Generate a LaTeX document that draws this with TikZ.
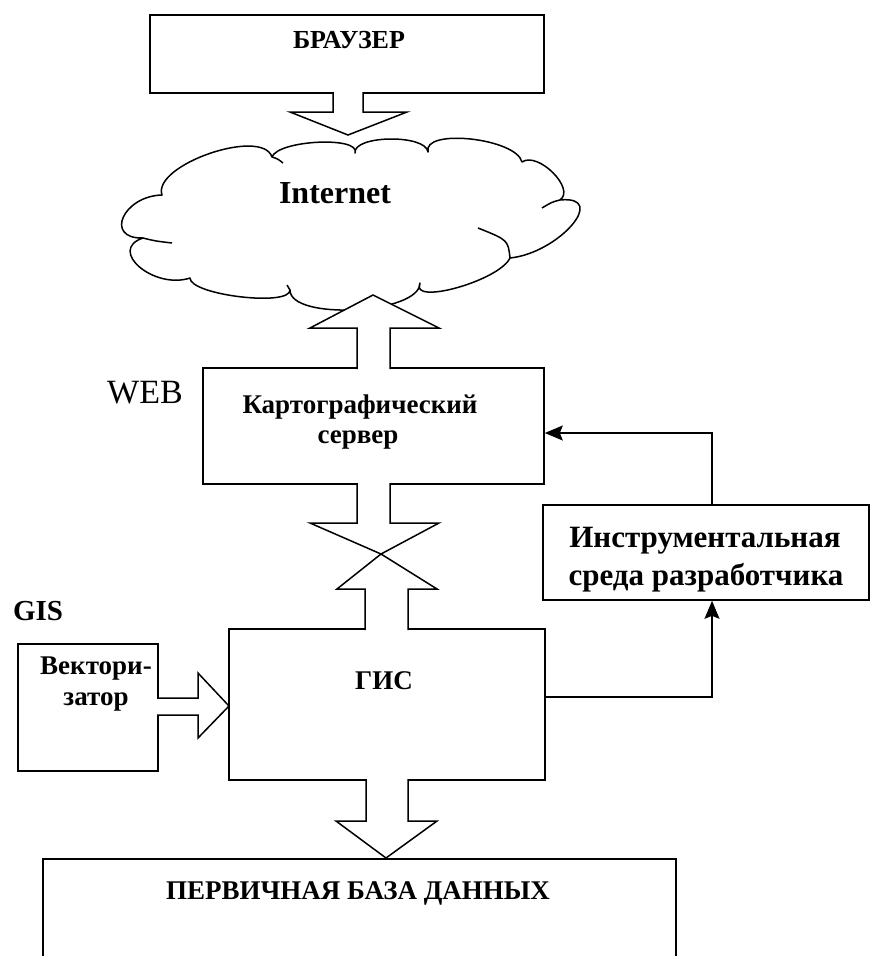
\documentclass[tikz,border=0pt]{standalone}
\usepackage{fontspec}
\setmainfont{Liberation Serif}
\usetikzlibrary{arrows.meta,calc}
\begin{document}
\begin{tikzpicture}[x=1pt,y=-1pt,
  box/.style={draw, line width=1.6pt, rectangle, inner sep=0pt},
  blockarrow/.style={draw, fill=white, line width=1.5pt, line join=miter},
  conn/.style={line width=1.6pt, -{Stealth[length=18pt,width=15pt,inset=3pt]}},
  lbl/.style={anchor=base, inner sep=0pt},
  cloudline/.style={line width=1.5pt, line join=round}
]
\useasboundingbox (0,0) rectangle (872,956);
\clip (0,0) rectangle (872,956);

% boxes
\node[box, minimum width=394pt, minimum height=78pt] (browser) at (347,54) {};
\node[box, minimum width=341pt, minimum height=116pt] (web) at (373.5,426) {};
\node[box, minimum width=326pt, minimum height=95pt] (instr) at (706,552.5) {};
\node[box, minimum width=316pt, minimum height=151pt] (gis) at (387,704.5) {};
\node[box, minimum width=140pt, minimum height=127pt] (vect) at (88,707.5) {};
\node[box, minimum width=633pt, minimum height=140pt, anchor=north] (db) at (359.5,858) {};

% cloud
\draw[cloudline, fill=white] (143,238)
 .. controls (104,239) and (123,196) .. (162,195)
 .. controls (152,165) and (262,127) .. (272,157)
 .. controls (278,140) and (361,136) .. (355,153)
 .. controls (353,135) and (426,134) .. (428,152)
 .. controls (422,128) and (516,138) .. (522,162)
 .. controls (538,151) and (576,189) .. (560,200)
 .. controls (609,195) and (559,253) .. (510,258)
 .. controls (499,281) and (409,306) .. (420,283)
 .. controls (420,314) and (290,321) .. (290,290)
 .. controls (290,307) and (190,295) .. (190,278)
 .. controls (154,290) and (107,250) .. cycle;
\draw[cloudline] (143,238) .. controls (155,241) .. (172,243);
\draw[cloudline] (272,157) .. controls (278,159) .. (283,163);
\draw[cloudline] (560,200) .. controls (552,202) .. (542,208);
\draw[cloudline] (510,258) .. controls (508,240) .. (478,228);
\draw[cloudline] (290,290) -- (287,285);
\node[lbl, font=\bfseries\fontsize{32}{36}\selectfont] (tinternet) at (335,203) {Internet};

% block arrows
\path[blockarrow] (333,92) -- (333,112) -- (290,112) -- (348,135) -- (407,112) -- (363,112) -- (363,92);
\path[blockarrow] (357,369) -- (357,328) -- (310,328) -- (373,295) -- (439,328) -- (390,328) -- (390,369);
\path[blockarrow] (357,483) -- (357,523) -- (310,523) -- (381,554) -- (439,523) -- (390,523) -- (390,483);
\path[blockarrow] (365,630) -- (365,589) -- (337,589) -- (381,554) -- (437,589) -- (408,589) -- (408,630);
\path[blockarrow] (366,779) -- (366,821) -- (336,821) -- (386,858) -- (437,821) -- (408,821) -- (408,779);
\path[blockarrow] (157,698) -- (198,698) -- (198,673) -- (229,706) -- (198,738) -- (198,715) -- (157,715);

% connectors
\draw[conn] ([yshift=7.5pt]gis.east) -| ([xshift=6pt]instr.south);
\draw[conn] ([xshift=6pt]instr.north) |- ([yshift=-7pt]web.east);

% texts
\node[lbl, font=\bfseries\fontsize{26}{30}\selectfont] (tbrowser) at (349,48) {БРАУЗЕР};
\node[lbl, font=\bfseries\fontsize{27}{30}\selectfont] (tweb1) at (360,413) {Картографический};
\node[lbl, font=\bfseries\fontsize{27}{30}\selectfont] (tweb2) at (358,443) {сервер};
\node[lbl, font=\bfseries\fontsize{31}{36}\selectfont] (tinstr1) at (705,547) {Инструментальная};
\node[lbl, font=\bfseries\fontsize{31}{36}\selectfont] (tinstr2) at (706,585) {среда разработчика};
\node[lbl, font=\bfseries\fontsize{27}{30}\selectfont] (tvect1) at (96,674) {Вектори-};
\node[lbl, font=\bfseries\fontsize{27}{30}\selectfont] (tvect2) at (96,705) {затор};
\node[lbl, font=\bfseries\fontsize{27}{30}\selectfont] (tgis) at (384,689) {ГИС};
\node[lbl, font=\bfseries\fontsize{27}{30}\selectfont] (tdb) at (358,899) {ПЕРВИЧНАЯ БАЗА ДАННЫХ};
\node[lbl, font=\fontsize{34}{38}\selectfont] (tweblabel) at (145,403) {WEB};
\node[lbl, font=\bfseries\fontsize{29}{32}\selectfont] (tgislabel) at (38,620) {GIS};
\end{tikzpicture}
\end{document}
